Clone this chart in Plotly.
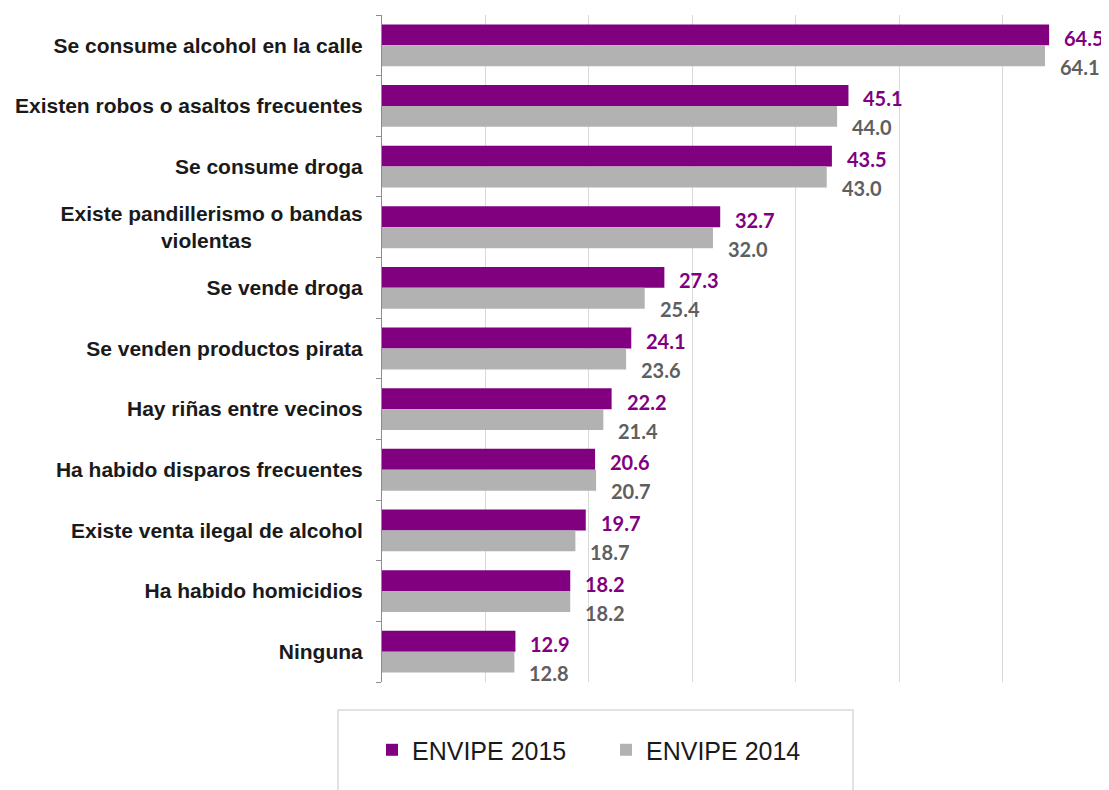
import plotly.graph_objects as go

# Data (ENVIPE, % of respondents)
categories = [
    "Se consume alcohol en la calle",
    "Existen robos o asaltos frecuentes",
    "Se consume droga",
    "Existe pandillerismo o bandas<br>violentas" + "\u00a0" * 19,
    "Se vende droga",
    "Se venden productos pirata",
    "Hay riñas entre vecinos",
    "Ha habido disparos frecuentes",
    "Existe venta ilegal de alcohol",
    "Ha habido homicidios",
    "Ninguna",
]
envipe_2015 = [64.5, 45.1, 43.5, 32.7, 27.3, 24.1, 22.2, 20.6, 19.7, 18.2, 12.9]
envipe_2014 = [64.1, 44.0, 43.0, 32.0, 25.4, 23.6, 21.4, 20.7, 18.7, 18.2, 12.8]

PURPLE = '#800080'
GREY = '#b2b2b2'
GREY_TEXT = '#5f5f5f'
BARGAP = 0.31

pos = list(range(len(categories)))
half = (1 - BARGAP) / 4  # centre offset of each bar inside its group

fig = go.Figure()

fig.add_trace(go.Bar(
    y=pos, x=envipe_2015, orientation='h', name='ENVIPE 2015',
    marker=dict(color=PURPLE, line=dict(width=0)),
    hovertemplate='%{x:.1f}<extra>ENVIPE 2015</extra>'
))
fig.add_trace(go.Bar(
    y=pos, x=envipe_2014, orientation='h', name='ENVIPE 2014',
    marker=dict(color=GREY, line=dict(width=0)),
    hovertemplate='%{x:.1f}<extra>ENVIPE 2014</extra>'
))

# Value labels
for i, (v15, v14) in enumerate(zip(envipe_2015, envipe_2014)):
    fig.add_annotation(x=v15, y=i - half, text=f'{v15:.1f}', showarrow=False,
                       xanchor='left', xshift=13, yshift=-3,
                       font=dict(family='Lato', size=20, color=PURPLE, weight='bold'))
    fig.add_annotation(x=v14, y=i + half, text=f'{v14:.1f}', showarrow=False,
                       xanchor='left', xshift=13, yshift=-11,
                       font=dict(family='Lato', size=20, color=GREY_TEXT, weight='bold'))

# Legend frame
fig.add_shape(type='rect', xref='paper', yref='paper',
              x0=-0.0608, x1=0.6506, y0=-0.25, y1=-0.042,
              line=dict(color='#d9d9d9', width=1.5), fillcolor='rgba(0,0,0,0)')

# page body adds an 8px offset, so the figure is 8px smaller than the window
fig.update_layout(
    width=1101, height=782,
    margin=dict(l=374, r=3, t=7, b=108),
    paper_bgcolor='white', plot_bgcolor='white',
    barmode='group', bargap=BARGAP,
    showlegend=True,
    legend=dict(orientation='h', x=-0.0138, xanchor='left', y=-0.102, yanchor='middle',
                font=dict(family='Liberation Sans, Arial', size=25, color='#1a1a1a'),
                entrywidth=189, entrywidthmode='pixels', bgcolor='rgba(0,0,0,0)'),
    xaxis=dict(range=[0, 70], dtick=10, showgrid=True, gridcolor='#d9d9d9', gridwidth=1,
               showticklabels=False, zeroline=False, showline=False, fixedrange=True),
    yaxis=dict(range=[len(categories) - 0.5, -0.5], tickmode='array', tickvals=pos,
               ticktext=categories, ticks='', showgrid=False, zeroline=False,
               showline=True, linecolor='#8c8c8c', linewidth=1, ticklabelstandoff=14,
               tickfont=dict(family='Liberation Sans, Arial', size=21, color='#1a1a1a',
                             weight='bold'),
               minor=dict(tickmode='array', tickvals=[p - 0.5 for p in pos] + [len(pos) - 0.5],
                          ticks='outside', ticklen=5, tickcolor='#8c8c8c', showgrid=False)),
)

fig.write_html("out.html")
